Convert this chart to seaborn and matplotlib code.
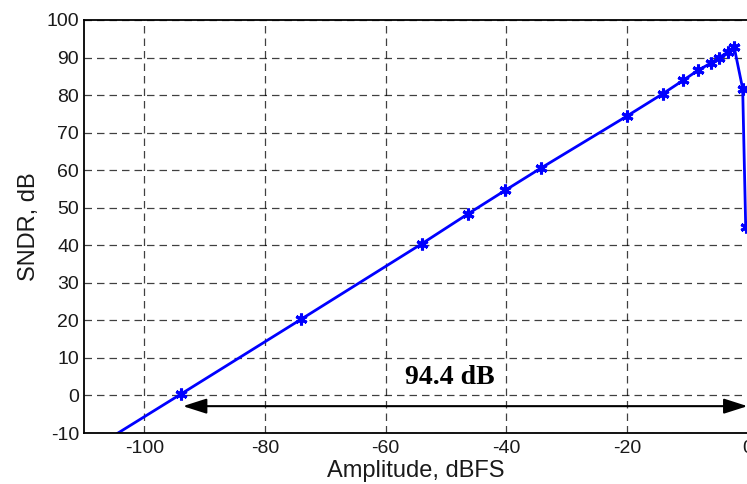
import matplotlib
matplotlib.use("Agg")
import matplotlib.pyplot as plt
import seaborn as sns
import pandas as pd

# Data
amplitude_dbfs = [-114.0, -94.0, -74.0, -54.0, -46.3, -40.2, -34.2, -20.0, -14.0,
                  -10.7, -8.2, -6.1, -4.7, -3.2, -2.2, -0.8, -0.3]
sndr_db = [-19.6, 0.3, 20.3, 40.4, 48.4, 54.6, 60.6, 74.4, 80.4,
           83.9, 86.6, 88.5, 90.0, 91.5, 92.7, 81.7, 45.0]
x_ticks = [-100, -80, -60, -40, -20, 0]
y_ticks = [-10, 0, 10, 20, 30, 40, 50, 60, 70, 80, 90, 100]
range_label = "94.4 dB"
range_x = [-93.6, 0.0]
range_y = -2.85
label_pos = (-49.4, 4.9)

df = pd.DataFrame({"Amplitude": amplitude_dbfs, "SNDR": sndr_db})

sns.set_style("white")
plt.rcParams["font.family"] = ["Liberation Sans", "DejaVu Sans"]
plt.rcParams["axes.unicode_minus"] = False

fig = plt.figure(figsize=(7.47, 4.84), dpi=100)
ax = fig.add_axes([84 / 747, 51 / 484, (747.5 - 84) / 747, 413 / 484])

sns.lineplot(data=df, x="Amplitude", y="SNDR", ax=ax, color=(0, 0, 1),
             linewidth=2.0, marker=(6, 2, 0), markersize=8.5,
             markeredgewidth=2.2, markeredgecolor=(0, 0, 1), sort=False)

ax.set_xlim(-110, 0)
ax.set_ylim(-10, 100)
ax.set_xticks(x_ticks)
ax.set_yticks(y_ticks)
ax.tick_params(axis="both", direction="in", length=5, width=1, labelsize=14,
               colors="black")
ax.tick_params(axis="y", pad=3.5)
ax.tick_params(axis="x", pad=5)
for t in ax.get_xticklabels() + ax.get_yticklabels():
    t.set_color("#1a1a1a")

ax.grid(True, which="major", color="black", linestyle=(0, (6, 4)),
        linewidth=0.9, alpha=0.75)
for s in ax.spines.values():
    s.set_color("black")
    s.set_linewidth(1.3)
    s.set_visible(True)

ax.set_xlabel("Amplitude, dBFS", fontsize=17, color="#1a1a1a", labelpad=2.5)
ax.set_ylabel("SNDR, dB", fontsize=17, color="#1a1a1a", labelpad=5)

ax.annotate("", xy=(range_x[0], range_y), xytext=(range_x[1], range_y),
            arrowprops=dict(arrowstyle="<|-|>,head_length=0.72,head_width=0.23",
                            mutation_scale=20, color="black", lw=1.5,
                            shrinkA=0, shrinkB=0),
            annotation_clip=False)
ax.text(label_pos[0], label_pos[1], range_label, ha="center", va="center",
        fontsize=20, fontweight="bold", family=["Liberation Serif", "DejaVu Serif"],
        color="black")

fig.savefig("out.png", dpi=100)
